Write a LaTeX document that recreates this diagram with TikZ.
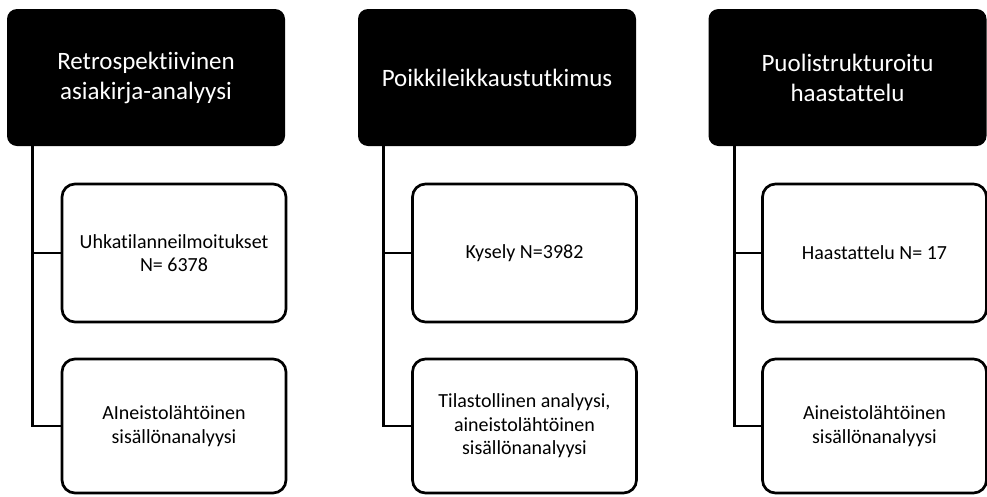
\documentclass[tikz,border=0pt]{standalone}
\usepackage{fontspec}
\setmainfont{Carlito}[Ligatures=NoCommon]
\usepackage{tikz}
\usetikzlibrary{calc}

\begin{document}
\begin{tikzpicture}[x=1pt,y=-1pt,
	head/.style={fill=black,text=white,rounded corners=10pt,inner sep=0pt,
		minimum width=278pt,minimum height=137pt,align=center,
		font=\fontsize{25}{30}\selectfont},
	item/.style={draw=black,fill=white,line width=2.7pt,rounded corners=13pt,inner sep=0pt,
		minimum width=224pt,align=center,font=\fontsize{20}{23.5}\selectfont},
	link/.style={line width=2.7pt}]
			\useasboundingbox (0,0) rectangle (987,496);
			
			\node[head] (H1) at (146,77.5) {Retrospektiivinen\\asiakirja-analyysi};
			\node[head] (H2) at (497,77.5) {Poikkileikkaustutkimus};
			\node[head] (H3) at (847.5,77.5) {Puolistrukturoitu\\haastattelu};
			
			\node[item,minimum height=138pt] (A1) at (174,253) {Uhkatilanneilmoitukset\\N= 6378};
			\node[item,minimum height=134pt] (A2) at (174,426) {AIneistolähtöinen\\sisällönanalyysi};
			\node[item,minimum height=138pt] (B1) at (524.5,253) {Kysely N=3982};
			\node[item,minimum height=134pt] (B2) at (524.5,426) {Tilastollinen analyysi,\\aineistolähtöinen\\sisällönanalyysi};
			\node[item,minimum height=138pt] (C1) at (874.5,253) {Haastattelu N= 17};
			\node[item,minimum height=134pt] (C2) at (874.5,426) {Aineistolähtöinen\\sisällönanalyysi};
			
			\draw[link] ($(H1.south west)+(26,0)$) |- (A1.west);
			\draw[link] ($(H1.south west)+(26,0)$) |- (A2.west);
			\draw[link] ($(H2.south west)+(26,0)$) |- (B1.west);
			\draw[link] ($(H2.south west)+(26,0)$) |- (B2.west);
			\draw[link] ($(H3.south west)+(26,0)$) |- (C1.west);
			\draw[link] ($(H3.south west)+(26,0)$) |- (C2.west);
		\end{tikzpicture}
\end{document}
